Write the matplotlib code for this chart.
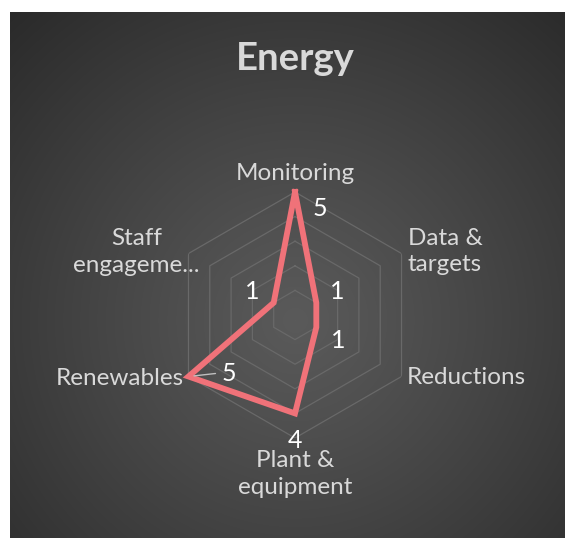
import numpy as np
import matplotlib
matplotlib.use("Agg")
import matplotlib.pyplot as plt

# chart data
categories = ["Monitoring", "Data &\ntargets", "Reductions", "Plant &\nequipment",
              "Renewables", "Staff\nengageme..."]
values = [5, 1, 1, 4, 5, 1]
ring_levels = [1, 2, 3, 4, 5]
title = "Energy"

plt.rcParams['font.family'] = ['Lato', 'DejaVu Sans']

W, H = 565, 538
fig = plt.figure(figsize=(W / 100, H / 100), dpi=100)
fig.patch.set_facecolor('white')

# dark radial gradient panel
bg = fig.add_axes([0, 0, 1, 1])
bg.set_xlim(0, W)
bg.set_ylim(H, 0)
bg.axis('off')
yy, xx = np.mgrid[12:H, 10:W]
d = np.sqrt((xx - 295) ** 2 + (yy - 320) ** 2)
d = np.clip(d / 420.0, 0, 1)
c0, c1 = 0x5a / 255, 0x2a / 255
shade = c0 + (c1 - c0) * d ** 1.1
img = np.dstack([shade, shade, shade])
bg.imshow(img, extent=[10, W, H, 12], interpolation='bilinear', aspect='auto')

# radar axes, center (295, 315), radius 123 px
cx, cy, R = 295, 315, 123
ax = fig.add_axes([(cx - R) / W, (H - cy - R) / H, 2 * R / W, 2 * R / H],
                  projection='polar')
ax.set_facecolor('none')
ax.set_theta_offset(np.pi / 2)
ax.set_theta_direction(-1)
ax.set_ylim(0, 5)
ax.spines['polar'].set_visible(False)
ax.grid(False)
ax.set_xticks([])
ax.set_yticks([])

n = len(categories)
theta = np.linspace(0, 2 * np.pi, n, endpoint=False)
th_closed = np.append(theta, theta[0])

for lv in ring_levels:
    ax.plot(th_closed, [lv] * (n + 1), color='#696969', lw=0.9, zorder=1)

vals_closed = values + values[:1]
ax.plot(th_closed, vals_closed, color='#F07279', lw=4.2, solid_joinstyle='miter',
        zorder=3, clip_on=False)

# category labels (offsets in pixels from the outer vertex)
label_offsets = [(0, 19, 'center'), (6, 2, 'left'), (5, -1.5, 'left'),
                 (0, -36, 'center'), (-5, -2, 'right'), (-52, 1.5, 'center')]
for t, lab, (dx, dy, ha) in zip(theta, categories, label_offsets):
    ax.annotate(lab, xy=(t, 5), xytext=(dx, dy), textcoords='offset pixels',
                ha=ha, va='center', fontsize=17.5, color='#D9D9D9',
                linespacing=1.32, annotation_clip=False)

# data labels
value_offsets = [(25, -16), (21, 11), (22, -13), (0, -27), (40, 3), (-21, 11)]
for t, v, (dx, dy) in zip(theta, values, value_offsets):
    ax.annotate(str(v), xy=(t, v), xytext=(dx, dy), textcoords='offset pixels',
                ha='center', va='center', fontsize=18, color='white',
                annotation_clip=False, zorder=4)

# leader line for the Renewables label
ax.annotate('', xy=(theta[4], values[4]), xytext=(27, 3), textcoords='offset pixels',
            arrowprops=dict(arrowstyle='-', color='#BFBFBF', lw=1,
                            shrinkA=0, shrinkB=4),
            annotation_clip=False)

fig.text(295 / W, 1 - 59 / H, title, ha='center', va='center', fontsize=27.5,
         fontweight='bold', color='#D9D9D9')

fig.savefig('out.png', dpi=100, facecolor=fig.get_facecolor())
